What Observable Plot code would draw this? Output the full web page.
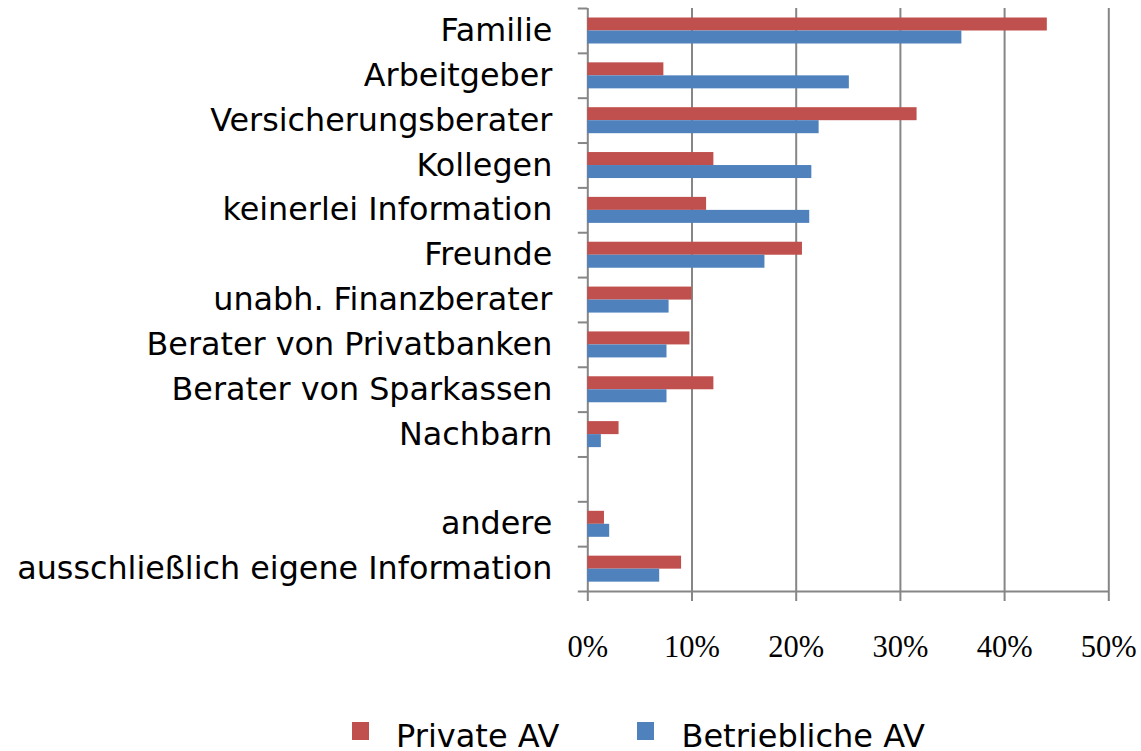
<!DOCTYPE html>
<html>
<head>
<meta charset="utf-8">
<script src="https://cdn.jsdelivr.net/npm/d3@7"></script>
<script src="https://cdn.jsdelivr.net/npm/@observablehq/plot@0.6"></script>
<style>
  html, body { margin: 0; padding: 0; background: #fff; }
  #wrap { position: relative; width: 1141px; height: 751px; overflow: hidden; }
  #legend { position: absolute; top: 721.5px; left: 352px; display: flex; align-items: flex-start;
            font-family: "DejaVu Sans", Verdana, sans-serif; font-size: 32px; line-height: 28px; color: #000; }
  .item { display: flex; align-items: flex-start; }
  .item span { display: inline-block; height: 28px; line-height: 28px; }
  .sw { width: 17px; height: 18px; margin-top: 0px; margin-right: 27px; }
</style>
</head>
<body>
<div id="wrap">
  <div id="chart"></div>
  <div id="legend"></div>
</div>
<script>
const categories = ["Familie", "Arbeitgeber", "Versicherungsberater", "Kollegen", "keinerlei Information",
  "Freunde", "unabh. Finanzberater", "Berater von Privatbanken", "Berater von Sparkassen", "Nachbarn",
  " ", "andere", "ausschließlich eigene Information"];
const privateAV =      [44.1, 7.3, 31.6, 12.1, 11.4, 20.6, 10.0, 9.8, 12.1, 3.0, null, 1.6, 9.0];
const betrieblicheAV = [35.9, 25.1, 22.2, 21.5, 21.3, 17.0, 7.8, 7.6, 7.6, 1.3, null, 2.1, 6.9];
const seriesNames = ["Private AV", "Betriebliche AV"];
const seriesColors = ["#C0504D", "#4F81BD"];
const xTicks = [0, 10, 20, 30, 40, 50];

const W = 1141, H = 680, mTop = 8, mBottom = 89, mLeft = 587.3, mRight = 32.7;
const step = (H - mTop - mBottom) / categories.length;
const barH = 13, firstOffset = 9.5;
const gray = "#868686";

const rows = (vals, s) => categories.map((c, i) => ({category: c, value: vals[i], series: s}))
  .filter(d => d.value != null);
const privRows = rows(privateAV, seriesNames[0]);
const betrRows = rows(betrieblicheAV, seriesNames[1]);

const labelFont = "'DejaVu Sans', Verdana, sans-serif";
const tickFont = "'Liberation Serif', 'Times New Roman', serif";

const chart = Plot.plot({
  width: W, height: H,
  marginTop: mTop, marginBottom: mBottom, marginLeft: mLeft, marginRight: mRight,
  style: {color: "#000", background: "#fff"},
  x: {domain: [0, 50], label: null},
  y: {domain: categories, padding: 0, round: false, label: null},
  marks: [
    Plot.gridX(xTicks, {stroke: gray, strokeOpacity: 1, strokeWidth: 2}),
    Plot.barX(privRows, {x: "value", y: "category", fill: seriesColors[0],
      insetTop: firstOffset, insetBottom: step - firstOffset - barH}),
    Plot.barX(betrRows, {x: "value", y: "category", fill: seriesColors[1],
      insetTop: firstOffset + barH, insetBottom: step - firstOffset - 2 * barH}),
    Plot.tickY([categories[categories.length - 1]], {y: d => d, dy: step / 2, stroke: gray, strokeWidth: 2}),
    Plot.axisY({tickSize: 9.5, tickFormat: () => "", dy: -step / 2, stroke: gray, strokeWidth: 2, label: null}),
    Plot.axisY({ticks: [categories[categories.length - 1]], tickSize: 9.5, tickFormat: () => "", dy: step / 2, stroke: gray, strokeWidth: 2, label: null}),
    Plot.axisY({tickSize: 0, tickPadding: 35.5, fontSize: 31.8, fontFamily: labelFont, fill: "#000", label: null}),
    Plot.axisX({ticks: xTicks, tickSize: 10, tickPadding: 34, tickFormat: d => d + "%",
      fontSize: 30.5, fontFamily: tickFont, stroke: gray, strokeWidth: 2, fill: "#000", label: null})
  ]
});
document.getElementById("chart").append(chart);

const legend = document.getElementById("legend");
seriesNames.forEach((name, i) => {
  const item = document.createElement("div");
  item.className = "item";
  if (i > 0) item.style.marginLeft = "78px";
  const sw = document.createElement("div");
  sw.className = "sw";
  sw.style.background = seriesColors[i];
  const t = document.createElement("span");
  t.textContent = name;
  item.append(sw, t);
  legend.append(item);
});
</script>
</body>
</html>
